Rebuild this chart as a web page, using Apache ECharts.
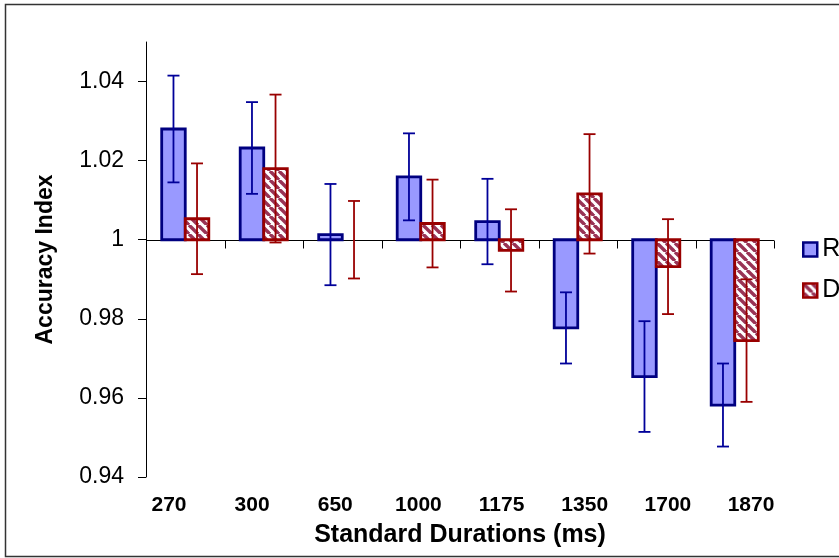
<!DOCTYPE html>
<html>
<head>
<meta charset="utf-8">
<script src="https://cdn.jsdelivr.net/npm/echarts@6/dist/echarts.min.js"></script>
<style>html,body{margin:0;padding:0;background:#fff}#c{width:839px;height:558px}</style>
</head>
<body>
<div id="c"></div>
<script>
// ---- data ----
const categories = ['270', '300', '650', '1000', '1175', '1350', '1700', '1870'];
const rValues = [1.0280, 1.0232, 1.0013, 1.0159, 1.0046, 0.9777, 0.9654, 0.9582];
const rErrors = [0.0135, 0.0116, 0.0128, 0.0110, 0.0108, 0.0090, 0.0140, 0.0105];
const dValues = [1.0053, 1.0180, 1.0000, 1.0041, 0.9973, 1.0116, 0.9932, 0.9745];
const dErrors = [0.0140, 0.0187, 0.0098, 0.0111, 0.0104, 0.0151, 0.0120, 0.0155];
const yTicks = [0.94, 0.96, 0.98, 1.00, 1.02, 1.04];
const baseValue = 1;

const FONT = '"Liberation Sans", Arial, sans-serif';
const BLUE_FILL = '#9999ff', BLUE_LINE = '#000080', BLUE_ERR = '#000099';
const RED_LINE = '#990000', RED_ERR = '#990000', HATCH = '#993355';

function makeHatch() {
  const s = 9;
  const c = document.createElement('canvas');
  c.width = s; c.height = s;
  const g = c.getContext('2d');
  g.fillStyle = '#ffffff'; g.fillRect(0, 0, s, s);
  g.strokeStyle = HATCH; g.lineWidth = 3.4;
  for (const o of [-s, 0, s]) {
    g.beginPath(); g.moveTo(o, 0); g.lineTo(o + s, s); g.stroke();
  }
  return c;
}
const hatch = { image: makeHatch(), repeat: 'repeat' };

const BAR_FRAC = 0.3;

function barItem(side, fill, stroke) {
  return function (params, api) {
    const i = api.value(0), v = api.value(1);
    const band = api.size([1, 0])[0];
    const w = band * BAR_FRAC;
    const c = api.coord([i, v]);
    const b = api.coord([i, baseValue]);
    const x0 = side < 0 ? c[0] - w : c[0];
    const y = Math.min(c[1], b[1]);
    const h = Math.abs(c[1] - b[1]);
    if (h < 0.5) return null;
    return {
      type: 'rect',
      shape: { x: x0, y: y, width: w, height: h },
      style: { fill: fill, stroke: stroke, lineWidth: 2.8 }
    };
  };
}

function errItem(side, color) {
  return function (params, api) {
    const i = api.value(0), v = api.value(1), e = api.value(2);
    const band = api.size([1, 0])[0];
    const w = band * BAR_FRAC;
    const top = api.coord([i, v + e]);
    const bot = api.coord([i, v - e]);
    const x = top[0] + side * w / 2;
    const cap = 6;
    const st = { stroke: color, lineWidth: 1.8 };
    return {
      type: 'group',
      children: [
        { type: 'line', shape: { x1: x, y1: top[1], x2: x, y2: bot[1] }, style: st },
        { type: 'line', shape: { x1: x - cap, y1: top[1], x2: x + cap, y2: top[1] }, style: st },
        { type: 'line', shape: { x1: x - cap, y1: bot[1], x2: x + cap, y2: bot[1] }, style: st }
      ]
    };
  };
}

function baselineItem(params, api) {
  const band = api.size([1, 0])[0];
  const c = api.coord([0, baseValue]);
  const left = c[0] - band / 2;
  const n = categories.length;
  const y = Math.round(c[1]) + 0.5;
  const children = [{
    type: 'line', shape: { x1: left, y1: y, x2: left + band * n, y2: y },
    style: { stroke: '#000', lineWidth: 1 }
  }];
  for (let k = 0; k <= n; k++) {
    const x = Math.round(left + band * k) + 0.5;
    children.push({ type: 'line', shape: { x1: x, y1: y, x2: x, y2: y + 8 }, style: { stroke: '#000', lineWidth: 1 } });
  }
  return { type: 'group', children: children };
}

const chart = echarts.init(document.getElementById('c'), null, { renderer: 'canvas' });
const option = {
  animation: false,
  backgroundColor: '#ffffff',
  textStyle: { fontFamily: FONT },
  graphic: [{
    type: 'rect', silent: true, z: -10,
    shape: { x: 5.5, y: 4.5, width: 900, height: 552 },
    style: { fill: 'none', stroke: '#333', lineWidth: 1.5 }
  }],
  grid: [
    { left: 146, top: 42, width: 628, height: 435, outerBoundsMode: 'none', containLabel: false },
    { left: 127.4, top: 42, width: 665.2, height: 435, outerBoundsMode: 'none', containLabel: false }
  ],
  xAxis: [
    { type: 'category', gridIndex: 0, data: categories, boundaryGap: true,
      axisLine: { show: false }, axisTick: { show: false }, axisLabel: { show: false }, splitLine: { show: false } },
    { type: 'category', gridIndex: 1, data: categories, boundaryGap: true,
      axisLine: { show: false }, axisTick: { show: false }, splitLine: { show: false },
      axisLabel: { fontSize: 21, fontWeight: 'bold', color: '#000', margin: 18, fontFamily: FONT },
      name: 'Standard Durations (ms)', nameLocation: 'middle', nameGap: 46,
      nameTextStyle: { fontSize: 25, fontWeight: 'bold', color: '#000', fontFamily: FONT } }
  ],
  yAxis: [
    { type: 'value', gridIndex: 0, min: 0.94, max: 1.05, interval: 0.02,
      axisLine: { show: true, lineStyle: { color: '#000', width: 1 } },
      axisTick: { show: true, inside: false, length: 8, lineStyle: { color: '#000' }, customValues: yTicks },
      axisLabel: { customValues: yTicks, fontSize: 23, color: '#000', margin: 22, fontFamily: FONT,
        formatter: v => String(parseFloat(Number(v).toFixed(2))) },
      splitLine: { show: false },
      name: 'Accuracy Index', nameLocation: 'middle', nameRotate: 90, nameGap: 89,
      nameTextStyle: { fontSize: 23, fontWeight: 'bold', color: '#000', fontFamily: FONT } },
    { type: 'value', gridIndex: 1, min: 0.94, max: 1.05, show: false }
  ],
  legend: {
    orient: 'vertical', left: 797, top: 232,
    itemWidth: 14, itemHeight: 14, itemGap: 16, itemTextGap: 4,
    textStyle: { fontSize: 25, color: '#000', lineHeight: 25, fontFamily: FONT },
    data: [
      { name: 'R', icon: 'rect', itemStyle: { color: BLUE_FILL, borderColor: BLUE_LINE, borderWidth: 2.5 } },
      { name: 'D', icon: 'rect', itemStyle: { color: hatch, borderColor: RED_LINE, borderWidth: 2.5 } }
    ]
  },
  series: [
    { type: 'custom', name: 'base', xAxisIndex: 0, yAxisIndex: 0, silent: true, z: 1,
      data: [[0, baseValue]], renderItem: baselineItem },
    { type: 'custom', name: 'R', xAxisIndex: 0, yAxisIndex: 0, z: 2,
      itemStyle: { color: BLUE_FILL, borderColor: BLUE_LINE, borderWidth: 2 },
      data: rValues.map((v, i) => [i, v]), renderItem: barItem(-1, BLUE_FILL, BLUE_LINE) },
    { type: 'custom', name: 'D', xAxisIndex: 0, yAxisIndex: 0, z: 2,
      itemStyle: { color: hatch, borderColor: RED_LINE, borderWidth: 2 },
      data: dValues.map((v, i) => [i, v]), renderItem: barItem(1, hatch, RED_LINE) },
    { type: 'custom', name: 'R err', xAxisIndex: 0, yAxisIndex: 0, z: 3, silent: true,
      data: rValues.map((v, i) => [i, v, rErrors[i]]), renderItem: errItem(-1, BLUE_ERR) },
    { type: 'custom', name: 'D err', xAxisIndex: 0, yAxisIndex: 0, z: 3, silent: true,
      data: dValues.map((v, i) => [i, v, dErrors[i]]), renderItem: errItem(1, RED_ERR) }
  ]
};
chart.setOption(option);
</script>
</body>
</html>
